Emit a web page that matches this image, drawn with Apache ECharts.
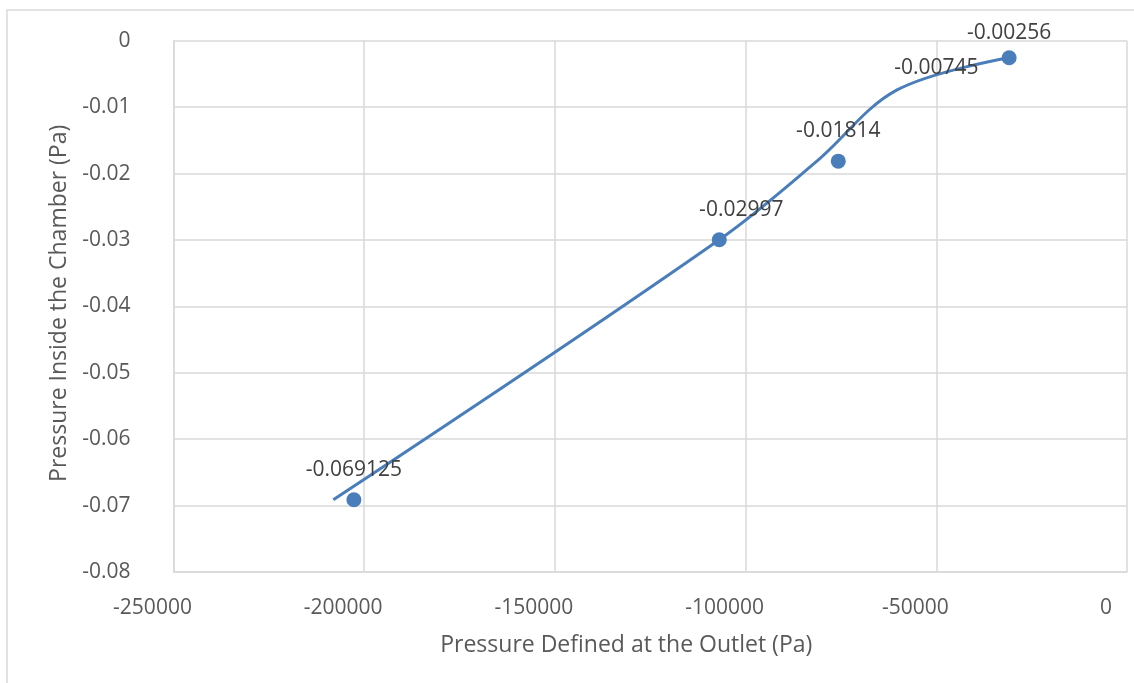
<!DOCTYPE html>
<html>
<head>
<meta charset="utf-8">
<script src="https://cdn.jsdelivr.net/npm/echarts@6/dist/echarts.min.js"></script>
<style>
html,body{margin:0;padding:0;background:#fff;}
#chart{width:1134px;height:683px;}
</style>
</head>
<body>
<div id="chart"></div>
<script>
// Measured points (markers + data labels)
const outletPressure = [-202700, -106900, -75700, -50000, -30900];
const chamberPressure = [-0.069125, -0.02997, -0.01814, -0.00745, -0.00256];
const pointLabels = ['-0.069125', '-0.02997', '-0.01814', '-0.00745', '-0.00256'];

// Smoothed curve series
const curveOutlet = [-208100, -106900, -81300, -60400, -30900];
const curveChamber = [-0.069125, -0.02997, -0.01814, -0.00745, -0.00256];

// Axis ticks
const xTicks = [-250000, -200000, -150000, -100000, -50000, 0];
const yTicks = [0, -0.01, -0.02, -0.03, -0.04, -0.05, -0.06, -0.07, -0.08];

const BLUE = '#4A7EBB';
const GRID = '#d9d9d9';
const TXT = '#595959';
const FONT = '"Open Sans", "Noto Sans", sans-serif';

// per-point presentation tweaks (not data)
const hiddenMarkerIdx = 3;
const labelOffsets = {1: [22, 0], 4: [0, 5]};

const scatterData = outletPressure.map((x, i) => {
  const item = { value: [x, chamberPressure[i]], name: pointLabels[i] };
  if (i === hiddenMarkerIdx) item.symbolSize = 0;
  if (labelOffsets[i]) item.label = { offset: labelOffsets[i] };
  return item;
});
const curveData = curveOutlet.map((x, i) => [x, curveChamber[i]]);

const chart = echarts.init(document.getElementById('chart'));
chart.setOption({
  animation: false,
  textStyle: { fontFamily: FONT },
  graphic: [{
    type: 'rect',
    shape: { x: 7, y: 10, width: 1300, height: 900 },
    style: { fill: 'none', stroke: GRID, lineWidth: 1.5 },
    silent: true, z: -10
  }],
  grid: {
    left: 173.5, top: 40.7, right: 7, bottom: 111,
    containLabel: false, outerBoundsMode: 'none'
  },
  xAxis: {
    type: 'value',
    min: xTicks[0], max: xTicks[xTicks.length - 1], interval: 50000,
    axisLine: { show: true, onZero: false, lineStyle: { color: GRID, width: 1.5 } },
    axisTick: { show: false },
    splitLine: { show: true, lineStyle: { color: GRID, width: 1.5 } },
    axisLabel: {
      color: TXT, fontSize: 21, fontFamily: FONT, margin: 26,
      padding: [0, 42, 0, 0],
      formatter: v => String(Math.round(v))
    },
    name: 'Pressure Defined at the Outlet (Pa)',
    nameLocation: 'middle', nameGap: 62,
    nameTextStyle: { color: TXT, fontSize: 23, fontFamily: FONT, padding: [0, 48, 0, 0] }
  },
  yAxis: {
    type: 'value',
    min: yTicks[yTicks.length - 1], max: yTicks[0], interval: 0.01,
    axisLine: { show: true, onZero: false, lineStyle: { color: GRID, width: 1.5 } },
    axisTick: { show: false },
    splitLine: { show: true, lineStyle: { color: GRID, width: 1.5 } },
    axisLabel: {
      color: TXT, fontSize: 21, fontFamily: FONT, margin: 43,
      formatter: v => (Math.abs(v) < 1e-9 ? '0' : v.toFixed(2))
    },
    name: 'Pressure Inside the Chamber (Pa)',
    nameLocation: 'middle', nameRotate: 90, nameGap: 97,
    nameTextStyle: { color: TXT, fontSize: 23, fontFamily: FONT, padding: [0, 0, 0, 6] }
  },
  series: [
    {
      type: 'line',
      data: curveData,
      smooth: 0.35,
      showSymbol: false,
      symbol: 'none',
      lineStyle: { color: BLUE, width: 3 },
      z: 2
    },
    {
      type: 'scatter',
      data: scatterData,
      symbol: 'circle',
      symbolSize: 15,
      itemStyle: { color: BLUE, opacity: 1 },
      label: {
        show: true, position: 'top', distance: 12,
        color: '#404040', fontSize: 21, fontFamily: FONT,
        formatter: p => p.name
      },
      z: 3
    }
  ]
});
</script>
</body>
</html>
